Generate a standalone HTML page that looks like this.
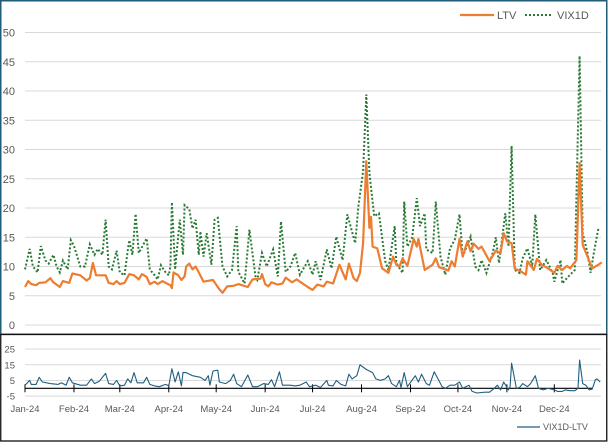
<!DOCTYPE html>
<html><head><meta charset="utf-8"><style>
html,body{margin:0;padding:0;background:#fff;}
svg{display:block;font-family:"Liberation Sans",Arial,sans-serif;}
</style></head><body>
<svg id="chart" width="608" height="442" viewBox="0 0 608 442">
<rect x="0" y="0" width="608" height="442" fill="#fff"/>
<g id="grid"></g>
<g id="series"></g>
<rect x="0.75" y="0.75" width="606" height="333.5" fill="none" stroke="#1f5c7a" stroke-width="1.5"/>
<rect x="0.75" y="334.5" width="606" height="106.5" fill="none" stroke="#111" stroke-width="1.3"/>
<g>
<line x1="460" y1="15" x2="494" y2="15" stroke="#ED7D31" stroke-width="2.2"/>
<text x="497" y="19" font-size="11" fill="#595959">LTV</text>
<line x1="525" y1="15" x2="553" y2="15" stroke="#2a7a35" stroke-width="2" stroke-dasharray="2 2"/>
<text x="557" y="19" font-size="11" fill="#595959">VIX1D</text>
</g>
<g>
<line x1="517" y1="427" x2="540" y2="427" stroke="#1f5f80" stroke-width="1.2"/>
<text x="543" y="430" font-size="9" fill="#595959">VIX1D-LTV</text>
</g>
</svg>
<script>
const ltvDays=[0,2,4,7,9,13,16,18,22,24,28,30,35,39,41,43,45,51,53,56,58,60,63,66,69,72,74,77,79,82,84,87,89,92,93,94,97,99,101,102,104,106,108,110,113,115,119,123,125,128,132,135,141,144,149,150,152,154,156,160,163,165,169,172,174,179,182,185,189,191,195,199,203,205,208,210,212,214,216,218,219,220,223,226,230,233,235,237,239,242,246,248,249,253,258,260,262,268,270,272,275,277,280,282,284,287,289,294,298,301,303,305,308,310,313,317,318,322,324,327,331,335,337,340,343,345,349,351,353,356,359,363,365];
const ltvVals=[6.5,7.5,7,6.8,7.2,7.3,8,7.3,6.5,7.5,7.2,8.8,8.5,7.6,8,10.6,8.5,8.5,7.2,7,7.5,7,7.2,8.7,8.5,7.8,8.7,8.2,7,7.4,7,7.5,7.2,6.8,6.3,9,8.5,7.7,8.3,10,10.5,9.5,10,9,7.4,7.5,7.7,6.1,5.5,6.6,6.7,7,6.5,7.8,7.9,8.7,7,6.6,7.3,6.9,7.1,8.1,7.3,7.8,7.4,6.5,6,6.9,6.6,7.4,7.1,10.3,7.8,10.5,8,7.5,8.9,14,28,16.6,18.5,13.4,13.1,9.7,8.9,11.7,10.3,10,11.4,10.1,14.7,13.4,14.7,9.4,10.3,11.4,9.9,9.3,10.9,10,14.7,11.7,14.3,12.6,13.9,13,13.4,10.9,12.7,12.3,15.7,14.3,14,9.6,9.3,8.6,10.9,9.4,11.3,10.3,9.7,8.9,10.1,9.4,10.1,9.7,11.1,27.7,13.7,11.7,9.7,10.3,10.7];
const vixDays=[0,3,5,8,10,13,15,18,20,22,24,27,29,31,35,38,41,44,46,49,51,53,55,58,60,63,65,66,68,70,72,77,79,82,84,86,89,91,92,93,95,98,100,101,104,106,108,110,111,113,115,118,120,122,125,128,131,134,135,139,142,146,147,150,153,157,160,162,165,168,171,174,179,182,184,187,191,194,197,201,204,209,211,214,216,218,221,224,228,230,234,235,239,240,242,245,248,250,253,254,258,260,263,266,269,272,275,277,282,285,287,289,292,296,298,300,304,306,308,310,313,315,318,321,323,326,330,334,335,339,340,344,348,351,353,356,358,360,363];
const vixVals=[9.5,13,10,9,13.5,11,10.5,12,10,9,11,9.5,14.5,13.5,10,10,13.8,12,13,12,18,10,9.5,12.7,9,8.5,12.7,14.5,12,19,12.3,14.8,9.5,8.5,7.8,10.2,9,8.5,10,21,9.5,18,12,20.5,19.8,16.5,18,12,16,11.7,15.7,10.3,18,18.3,10,8.3,9.4,16.9,9.1,7.1,16.3,8,7.7,12.3,10,12.9,8.3,17.7,9.1,10,12.3,8.6,10.9,8.6,10.9,7.7,12.9,9.7,15.1,11.1,18.9,14,20.3,26.3,39.4,26,18.6,19.1,10.9,9.4,16.9,10.6,8.9,21.1,13.4,14.9,21.7,16.9,19.1,12.9,12.3,21.1,11.7,8.6,13.1,14.6,18.9,11.7,15.1,10,9.4,11.1,8.9,12.3,15,10.6,19.1,13.4,30.6,9.4,8.9,11.4,13.1,10,18.9,9.4,11.1,8.9,7.4,11.1,7.1,8.3,9.4,46,15.7,12.3,8.9,12.3,16.6];
const diffDays=[0,3,4,7,9,11,16,21,23,26,28,30,35,39,42,44,47,51,53,56,58,60,63,65,67,69,71,75,77,79,82,85,89,91,93,95,97,99,100,102,106,111,114,116,117,119,122,123,127,130,132,134,137,141,144,147,151,154,156,158,161,163,168,171,174,178,180,184,187,191,192,195,197,200,203,205,207,210,212,216,220,222,225,228,230,232,235,237,238,240,242,247,249,251,254,256,259,263,264,266,269,272,275,277,279,281,283,286,291,294,297,299,301,303,306,307,308,311,313,315,318,320,323,325,328,331,335,337,340,342,345,348,350,351,353,355,357,359,361,362,364];
const diffVals=[2,5,2.5,2.5,7,4,3,2.5,3.5,2,7,3.5,2,2,6,3,4.5,9.5,3,2.5,5,1.5,2,6,3.5,10,3.5,3.5,7,2.5,1.5,1,2.5,1.5,12.5,4,10.5,1.5,10,10,8,7,5,8,2,11,11.5,4,3,5,9,3,1,8.5,1,1,3,2.5,5.5,1,10.5,2,2,1.5,2,4,1,2,0.5,5,2,1.5,5,2.5,1.5,9,6,8,15,12,10,6,5,6,8,3,1,5,0.5,10,1,8,4,9,3,2,10.5,3,1,0,2,2,4,0,1,2,-2,-3,-2.5,-2.5,0,2,-1,4,-1,1,16,0,0.5,3,1,3,8,0,-1,0,-1,-2,-2,-1,-1.5,-1.5,0,18,3,2,-1,-0.5,5.5,6,4];
const topTicks=[0,5,10,15,20,25,30,35,40,45,50];
const botTicks=[25,15,5,-5];
const monthLabels=["Jan-24","Feb-24","Mar-24","Apr-24","May-24","Jun-24","Jul-24","Aug-24","Sep-24","Oct-24","Nov-24","Dec-24"];
const monthStarts=[0,31,60,91,121,152,182,213,244,274,305,335];

const NS="http://www.w3.org/2000/svg";
const xS=d=>25+d*1.58;
const yT=v=>325-v*5.85;
const yB=v=>388.3-v*1.57;
const grid=document.getElementById('grid');
const ser=document.getElementById('series');
function mk(tag,attrs,parent){const e=document.createElementNS(NS,tag);for(const k in attrs)e.setAttribute(k,attrs[k]);parent.appendChild(e);return e;}

topTicks.forEach(t=>{
  const l=mk('line',{x1:25,x2:601,y1:yT(t),y2:yT(t),stroke:'#d9d9d9','stroke-width':1},grid);
  
  
  const tx=mk('text',{x:15,y:yT(t)+4,'font-size':11,fill:'#595959','text-anchor':'end'},grid);
  tx.textContent=t;
  
  
});
botTicks.forEach(t=>{
  const l=mk('line',{x1:25,x2:601,y1:yB(t),y2:yB(t),stroke:'#d9d9d9','stroke-width':1},grid);
  
  
  const tx=mk('text',{x:15,y:yB(t)+3.5,'font-size':9.5,fill:'#595959','text-anchor':'end'},grid);
  tx.textContent=t;
  
  
});
const ax=mk('line',{x1:25,x2:592,y1:yB(0),y2:yB(0),stroke:'#000','stroke-width':1.2},grid);


monthStarts.forEach((d,i)=>{
  const tk=mk('line',{x1:xS(d),x2:xS(d),y1:yB(0)-4,y2:yB(0)+4,stroke:'#000','stroke-width':1},grid);
  
  
  const tx=mk('text',{x:xS(d),y:412,'font-size':9.5,fill:'#595959','text-anchor':'middle'},grid);
  tx.textContent=monthLabels[i];
  
  
});
function pts(days,vals,yf){return days.map((d,i)=>xS(d).toFixed(1)+','+yf(vals[i]).toFixed(1)).join(' ');}
const pv=mk('polyline',{points:pts(vixDays,vixVals,yT),fill:'none',stroke:'#2a7a35','stroke-width':2,'stroke-dasharray':'2 2'},ser);


const pl=mk('polyline',{points:pts(ltvDays,ltvVals,yT),fill:'none',stroke:'#ED7D31','stroke-width':2.2,'stroke-linejoin':'round'},ser);


const pd=mk('polyline',{points:pts(diffDays,diffVals,yB),fill:'none',stroke:'#1f5f80','stroke-width':1.1,'stroke-linejoin':'round'},ser);


</script>
</body></html>
